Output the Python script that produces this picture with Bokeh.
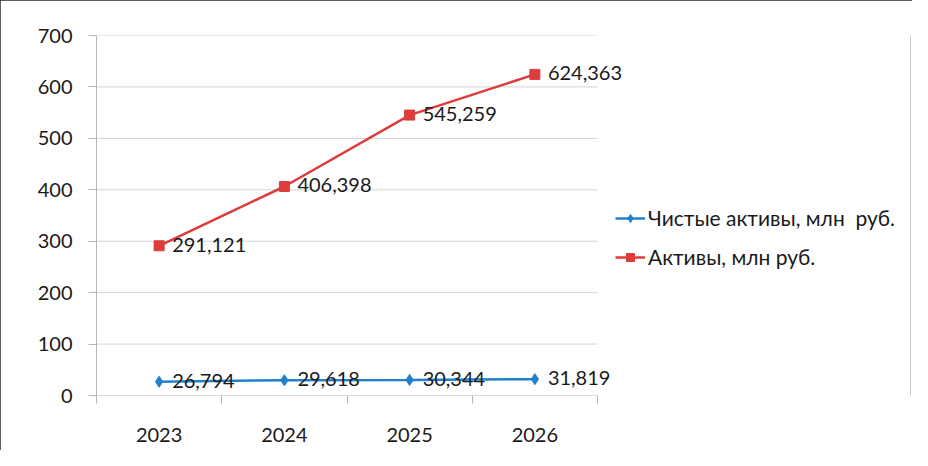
from bokeh.plotting import figure
from bokeh.models import (ColumnDataSource, FixedTicker, Legend, LegendItem,
                          Range1d, LabelSet, InlineStyleSheet)
from bokeh.core.properties import value
from bokeh.embed import file_html
from bokeh.resources import INLINE

years = ["2023", "2024", "2025", "2026"]
net_assets = [26.794, 29.618, 30.344, 31.819]
assets = [291.121, 406.398, 545.259, 624.363]
y_ticks = [0, 100, 200, 300, 400, 500, 600, 700]
net_name = "Чистые активы, млн  руб."
assets_name = "Активы, млн руб."

FONT = "Lato"
BLUE = "#2080cc"
RED = "#dd3c3c"
GRID = "#d4d4d4"
AXIS = "#b8b8b8"
TEXT = "#1a1a1a"

PLOT_W = 501      # width of the gridded plot area
FRAME_W = 814     # frame extends right to hold labels and legend
FRAME_H = 360

xs = [i + 0.5 for i in range(len(years))]

def fmt(v):
    return f"{v:.3f}".replace(".", ",")

src_net = ColumnDataSource(dict(x=xs, y=net_assets, lab=[fmt(v) for v in net_assets]))
src_ast = ColumnDataSource(dict(x=xs, y=assets, lab=[fmt(v) for v in assets]))

x_end = len(years) * FRAME_W / PLOT_W
p = figure(frame_width=FRAME_W, frame_height=FRAME_H,
           x_range=Range1d(0, x_end), y_range=Range1d(y_ticks[0], y_ticks[-1]),
           output_backend="svg", toolbar_location=None,
           min_border_left=96, min_border_right=2,
           min_border_top=35, min_border_bottom=55)
p.outline_line_color = None
p.background_fill_color = "white"
p.border_fill_color = "white"
p.stylesheets = [InlineStyleSheet(css=":host { outline: 2px solid #2a2a2a; outline-offset: -2px; }")]

# grid drawn only across the category area
p.xgrid.grid_line_color = None
p.ygrid.grid_line_color = None
p.segment(x0=[0] * (len(y_ticks) - 1), x1=[len(years)] * (len(y_ticks) - 1),
          y0=y_ticks[1:], y1=y_ticks[1:], line_color=GRID, line_width=1)
p.segment(x0=[0], x1=[len(years)], y0=[y_ticks[0]], y1=[y_ticks[0]],
          line_color=AXIS, line_width=1)

# y axis
p.yaxis.ticker = FixedTicker(ticks=y_ticks)
p.yaxis.axis_line_color = AXIS
p.yaxis.major_tick_line_color = AXIS
p.yaxis.major_tick_out = 8
p.yaxis.major_tick_in = 0
p.yaxis.minor_tick_line_color = None
p.yaxis.major_label_text_font = FONT
p.yaxis.major_label_text_font_size = "20px"
p.yaxis.major_label_text_color = TEXT
p.yaxis.major_label_standoff = 16

# x axis: labels at category centres, tick marks at boundaries
p.xaxis.ticker = FixedTicker(ticks=xs, minor_ticks=list(range(len(years) + 1)))
p.xaxis.major_label_overrides = {x: y for x, y in zip(xs, years)}
p.xaxis.axis_line_color = None
p.xaxis.major_tick_line_color = None
p.xaxis.minor_tick_line_color = AXIS
p.xaxis.minor_tick_out = 8
p.xaxis.minor_tick_in = 0
p.xaxis.major_label_text_font = FONT
p.xaxis.major_label_text_font_size = "20px"
p.xaxis.major_label_text_color = TEXT
p.xaxis.major_label_standoff = 24

# series
l1 = p.line("x", "y", source=src_net, color=BLUE, line_width=2.5)
m1 = p.scatter("x", "y", source=src_net, marker="diamond", size=11,
               fill_color=BLUE, line_color=BLUE)
l2 = p.line("x", "y", source=src_ast, color=RED, line_width=2.5)
m2 = p.scatter("x", "y", source=src_ast, marker="square", size=10,
               fill_color=RED, line_color=RED)

for src in (src_net, src_ast):
    p.add_layout(LabelSet(x="x", y="y", text="lab", source=src,
                          x_offset=13, y_offset=1,
                          text_baseline="middle", text_align="left",
                          text_font=value(FONT), text_font_size="20px",
                          text_color=TEXT))

legend = Legend(items=[LegendItem(label=net_name, renderers=[l1, m1]),
                       LegendItem(label=assets_name, renderers=[l2, m2])],
                location=(PLOT_W + 18, 126), margin=0, padding=0,
                border_line_color=None, background_fill_alpha=0,
                glyph_width=30, glyph_height=20, label_standoff=3,
                spacing=14, label_text_font=FONT,
                label_text_font_size="21px", label_text_color=TEXT)
p.add_layout(legend)

open("out.html", "w").write(file_html(p, INLINE))
